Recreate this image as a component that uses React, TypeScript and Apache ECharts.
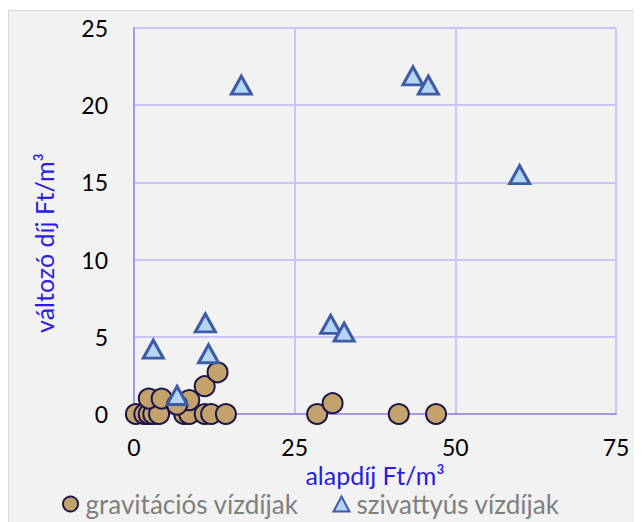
import React, { useEffect, useRef } from "react";
import * as echarts from "echarts";

const gravX = [0.3, 1.6, 2.3, 3.0, 3.9, 7.8, 8.6, 11.0, 12.0, 14.3, 2.3, 4.3, 8.6, 6.7, 11.0, 13.0, 28.5, 30.9, 41.2, 47.0];
const gravY = [0, 0, 0, 0, 0, 0, 0, 0, 0, 0, 1.0, 1.0, 0.9, 0.6, 1.8, 2.7, 0, 0.7, 0, 0];
const pumpX = [16.7, 43.4, 45.8, 60.0, 3.0, 11.1, 11.6, 6.7, 30.6, 32.7];
const pumpY = [21.3, 21.9, 21.3, 15.5, 4.2, 5.9, 3.9, 1.2, 5.8, 5.3];
const seriesNames = ["gravitációs vízdíjak", "szivattyús vízdíjak"];
const xName = "alapdíj Ft/m³";
const yName = "változó díj Ft/m³";

const FONT = "Lato, 'Noto Sans', sans-serif";

export default function App() {
  const ref = useRef<HTMLDivElement>(null);
  useEffect(() => {
    if (!ref.current) return;
    const chart = echarts.init(ref.current, undefined, { renderer: "svg" });
    const grav = gravX.map((x, i) => [x, gravY[i]]);
    const pump = pumpX.map((x, i) => [x, pumpY[i]]);
    chart.setOption({
      animation: false,
      backgroundColor: "#f2f2f2",
      textStyle: { fontFamily: FONT },
      grid: { left: 125, top: 17, width: 482, height: 386 },
      xAxis: {
        type: "value",
        min: 0,
        max: 75,
        interval: 25,
        name: xName,
        nameLocation: "middle",
        nameGap: 46,
        nameTextStyle: { color: "#2a1ce0", fontSize: 25, fontFamily: FONT },
        axisLine: { show: true, lineStyle: { color: "#a597f0", width: 2 } },
        axisTick: { show: false },
        axisLabel: { color: "#000", fontSize: 23, fontFamily: FONT, margin: 21 },
        splitLine: { show: true, lineStyle: { color: "#cbc4f9", width: 2 } },
      },
      yAxis: {
        type: "value",
        min: 0,
        max: 25,
        interval: 5,
        name: yName,
        nameLocation: "middle",
        nameGap: 78,
        nameTextStyle: { color: "#2a1ce0", fontSize: 25, fontFamily: FONT, padding: [0, 44, 0, 0] },
        axisLine: { show: true, lineStyle: { color: "#a597f0", width: 2 } },
        axisTick: { show: false },
        axisLabel: { color: "#000", fontSize: 23, fontFamily: FONT, margin: 26 },
        splitLine: { show: true, lineStyle: { color: "#cbc4f9", width: 2 } },
      },
      legend: {
        top: 475,
        left: 48,
        itemGap: 34,
        itemWidth: 16,
        itemHeight: 15,
        textStyle: { color: "#7f7f7f", fontSize: 26, fontFamily: FONT, padding: [0, 0, 0, 2] },
        data: [
          { name: seriesNames[0], icon: "circle" },
          { name: seriesNames[1], icon: "triangle" },
        ],
      },
      series: [
        {
          name: seriesNames[0],
          type: "scatter",
          data: grav,
          symbol: "circle",
          symbolSize: 20,
          itemStyle: { color: "#c3a36b", borderColor: "#1b1448", borderWidth: 2, opacity: 1 },
          z: 2,
        },
        {
          name: seriesNames[1],
          type: "scatter",
          data: pump,
          symbol: "triangle",
          symbolSize: [20, 18],
          itemStyle: { color: "#b5d5f5", borderColor: "#3d5ba6", borderWidth: 3, opacity: 1 },
          z: 3,
        },
      ],
    });
    return () => chart.dispose();
  }, []);
  return (
    <div
      style={{
        marginTop: 2,
        border: "1px solid #d9d9d9",
        width: 640,
        height: 520,
      }}
    >
      <div ref={ref} style={{ width: 640, height: 520 }} />
    </div>
  );
}
